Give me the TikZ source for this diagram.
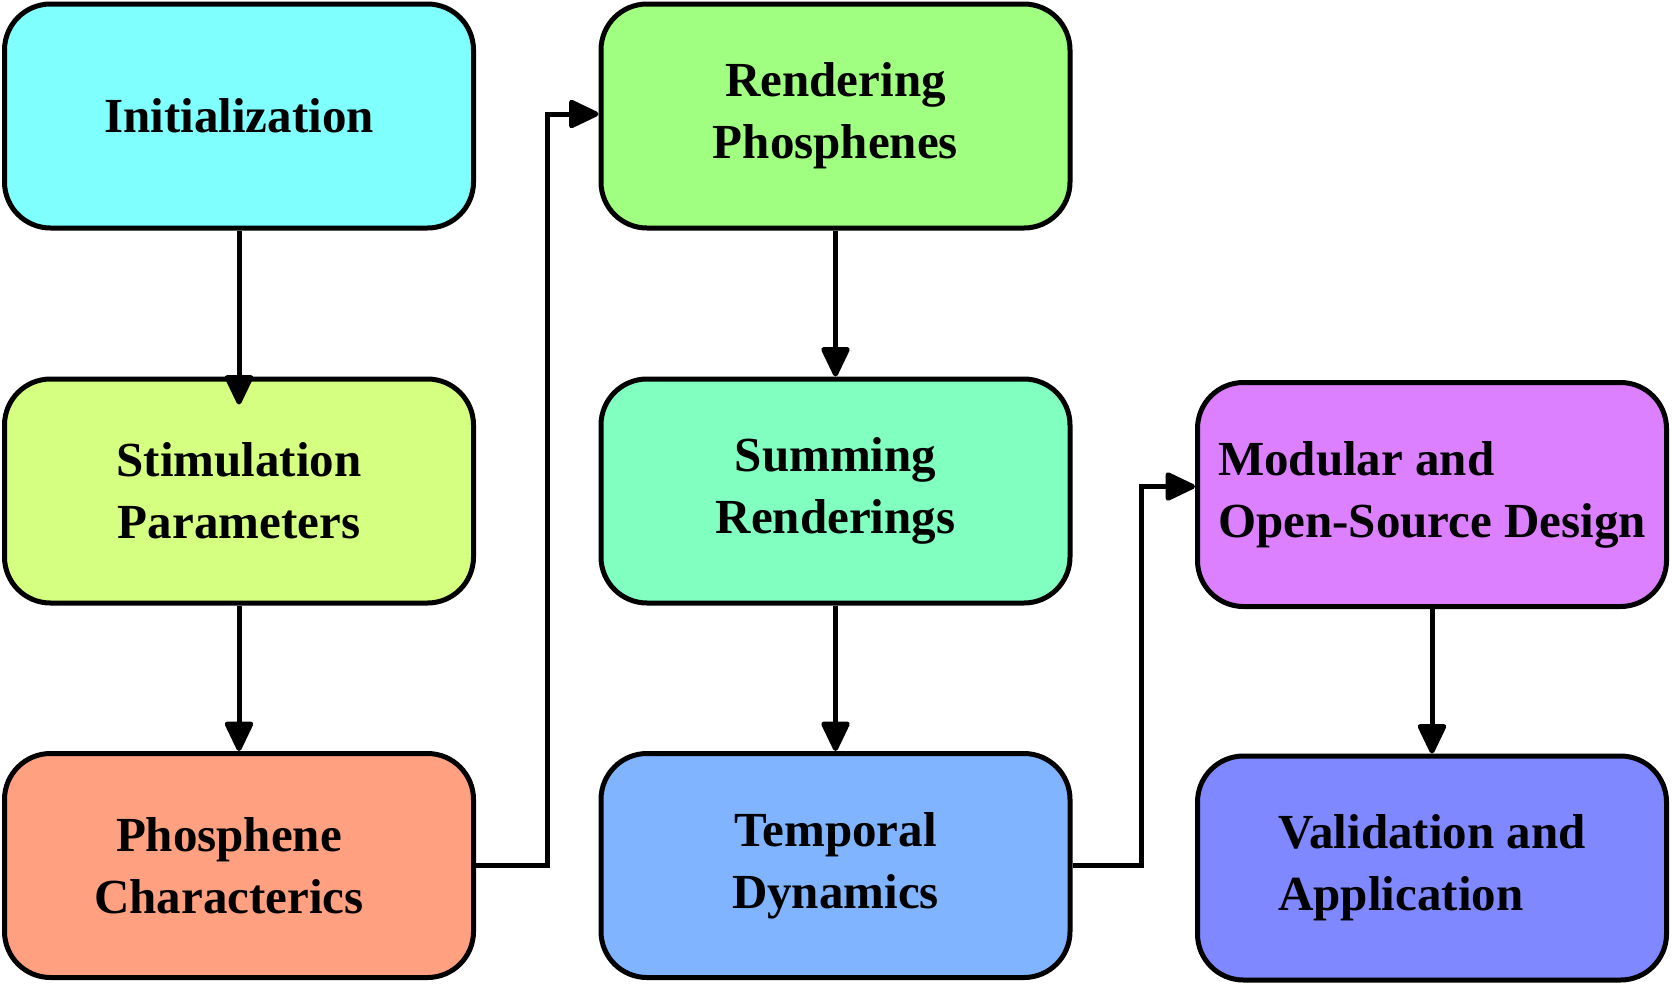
\documentclass[tikz,border=0pt]{standalone}
\usepackage{fontspec}
\setmainfont{Liberation Serif}
\usetikzlibrary{arrows.meta,calc}
\definecolor{cInit}{RGB}{128,255,255}
\definecolor{cStim}{RGB}{213,255,128}
\definecolor{cPhos}{RGB}{255,160,128}
\definecolor{cRend}{RGB}{160,255,128}
\definecolor{cSum}{RGB}{128,255,192}
\definecolor{cTemp}{RGB}{128,180,255}
\definecolor{cMod}{RGB}{221,128,255}
\definecolor{cVal}{RGB}{128,136,255}
\tikzset{
  box/.style={draw=black, line width=5pt, rounded corners=46pt,
    minimum width=469pt, minimum height=224pt, inner sep=0pt,
    font=\fontsize{49}{62}\selectfont\bfseries, align=center},
  arr/.style={draw=black, line width=5pt,
    -{Triangle[length=33pt,width=30pt,round]}},
  plain/.style={draw=black, line width=5pt}
}
\begin{document}
\begin{tikzpicture}[x=1pt,y=-1pt]
\useasboundingbox (0,0) rectangle (1672,986);
\node[box, fill=cInit] (init) at (239,116) {Initialization};
\node[box, fill=cStim] (stim) at (239,491) {Stimulation\\Parameters};
\node[box, fill=cPhos] (phos) at (239,865.5) {Phosphene\hspace*{20pt}\\Characterics\hspace*{20pt}};
\node[box, fill=cRend] (rend) at (835.5,116) {Rendering\\Phosphenes};
\node[box, fill=cSum] (sum) at (835.5,491) {Summing\\Renderings};
\node[box, fill=cTemp] (temp) at (835.5,865.5) {Temporal\\Dynamics};
\node[box, fill=cMod, align=left] (mod) at (1432,494.5) {Modular and\\Open-Source Design};
\node[box, fill=cVal, align=left] (val) at (1432,868) {Validation and\\Application};
\coordinate (k1) at (547,0);
\coordinate (k2) at (1141,0);
\draw[arr] (init.south) -- ([yshift=-28pt]stim.north);
\draw[arr] (stim.south) -- (phos.north);
\draw[arr] (rend.south) -- (sum.north);
\draw[arr] (sum.south) -- (temp.north);
\draw[arr] (mod.south) -- (val.north);
\draw[arr] (phos.east) -- (phos.east -| k1) -- ([yshift=2pt]rend.west -| k1) -- ([yshift=2pt]rend.west);
\draw[arr] (temp.east) -- (temp.east -| k2) -- ([yshift=8pt]mod.west -| k2) -- ([yshift=8pt]mod.west);
\end{tikzpicture}
\end{document}
